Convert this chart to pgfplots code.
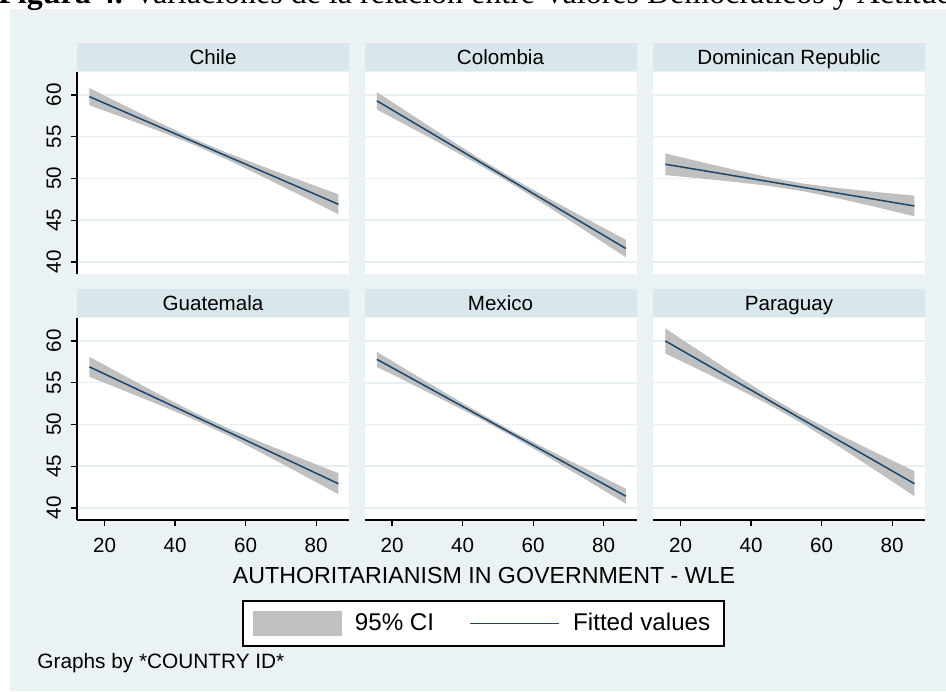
\documentclass[border=0pt]{standalone}
\usepackage{pgfplots}
\pgfplotsset{compat=1.18}
\usepackage{fontspec}
\setmainfont{Liberation Sans}
\newfontfamily\serifttl{Liberation Serif}
\definecolor{bgc}{HTML}{EAF2F3}
\definecolor{stripc}{HTML}{D9E6EB}
\definecolor{gridc}{HTML}{E6EFF1}
\definecolor{navy}{HTML}{1A476F}
\definecolor{cigray}{HTML}{C0C0C0}
\newcommand\fs[1]{\fontsize{#1}{#1}\selectfont}

\pgfplotsset{
  panel/.style={
    scale only axis, width=136pt, height=101pt,
    xmin=12.2, xmax=89.3, ymin=38.55, ymax=62.75,
    xtick={20,40,60,80}, ytick={40,45,50,55,60},
    ymajorgrids, grid style={color=gridc, line width=0.8pt},
    axis background/.style={fill=white},
    axis x line*=bottom, axis y line*=left,
    axis line style={-, black, line width=0.6pt},
    tick align=outside, major tick length=2.8pt,
    tick style={black, line width=0.6pt},
    xticklabels={}, yticklabels={},
    tick label style={font=\fs{10.3}},
    every axis title shift=0pt,
    title style={at={(0.5,1)}, anchor=south, yshift=0.5pt, fill=stripc,
      minimum width=136pt, minimum height=14pt, inner sep=0pt,
      text height=7.4pt, text depth=0pt, font=\fs{10.3}},
  },
  noy/.style={y axis line style={draw=none}, ytick style={draw=none}},
  nox/.style={x axis line style={draw=none}, xtick style={draw=none}},
  ylab/.style={yticklabels={40,45,50,55,60},
    yticklabel style={rotate=90, anchor=south, inner sep=0pt},
    yticklabel shift=5pt},
  xlab/.style={xticklabels={20,40,60,80},
    xticklabel style={anchor=north, inner sep=0pt},
    xticklabel shift=6pt},
  fit/.style={navy, line width=0.75pt},
  ci/.style={fill=cigray, draw=none},
}

\begin{document}
\begin{tikzpicture}
\fill[white] (0pt,0pt) rectangle (473pt,-345.5pt);
\fill[bgc] (5pt,-4.5pt) rectangle (473pt,-345.5pt);
\begin{scope}
\clip (0pt,0pt) rectangle (473pt,-8pt);
\node[overlay, anchor=base west, inner sep=0pt, font=\serifttl\fs{16}] at (-1pt,-1.75pt)
  {\textbf{Figura 4.} Variaciones de la relación entre Valores Democráticos y Actitudes hacia el Gobierno};
\end{scope}

% Chile
\begin{axis}[panel, nox, ylab, title={Chile}, at={(38.5pt,-137pt)}, anchor=south west]
\addplot[ci] coordinates {(15.7,60.83) (25,58.87) (35,56.80) (45,54.80) (55,53.03) (65,51.41) (75,49.85) (86.3,48.10)
  (86.3,45.70) (75,48.09) (65,50.17) (55,52.21) (45,54.08) (35,55.75) (25,57.33) (15.7,58.77)} -- cycle;
\addplot[fit] coordinates {(15.7,59.80) (86.3,46.90)};
\end{axis}

% Colombia
\begin{axis}[panel, nox, noy, title={Colombia}, at={(182.25pt,-137pt)}, anchor=south west]
\addplot[ci] coordinates {(15.7,60.35) (25,57.78) (35,55.03) (45,52.34) (55,49.82) (65,47.47) (75,45.19) (86.3,42.65)
  (86.3,40.55) (75,43.67) (65,46.41) (55,49.08) (45,51.56) (35,53.89) (25,56.16) (15.7,58.25)} -- cycle;
\addplot[fit] coordinates {(15.7,59.30) (86.3,41.60)};
\end{axis}

% Dominican Republic
\begin{axis}[panel, nox, noy, title={Dominican Republic}, at={(326.5pt,-137pt)}, anchor=south west]
\addplot[ci] coordinates {(15.7,53.00) (25,52.05) (35,51.06) (45,50.13) (55,49.37) (65,48.84) (75,48.39) (86.3,47.94)
  (86.3,45.46) (75,46.61) (65,47.58) (55,48.45) (45,49.11) (35,49.60) (25,50.03) (15.7,50.40)} -- cycle;
\addplot[fit] coordinates {(15.7,51.70) (86.3,46.70)};
\end{axis}

% Guatemala
\begin{axis}[panel, ylab, xlab, title={Guatemala}, at={(38.5pt,-260pt)}, anchor=south west]
\addplot[ci] coordinates {(15.7,58.10) (25,55.98) (35,53.71) (45,51.52) (55,49.54) (65,47.76) (75,46.06) (86.3,44.16)
  (86.3,41.64) (75,44.22) (65,46.48) (55,48.68) (45,50.66) (35,52.43) (25,54.14) (15.7,55.70)} -- cycle;
\addplot[fit] coordinates {(15.7,56.90) (86.3,42.90)};
\end{axis}

% Mexico
\begin{axis}[panel, noy, xlab, title={Mexico}, at={(182.25pt,-260pt)}, anchor=south west,
  legend columns=2,
  legend style={at={(0.4375,-0.5124)}, anchor=center, draw=black, line width=0.9pt, fill=white,
    font=\fs{12.1}, inner xsep=5pt, inner ysep=4.3pt,
    /tikz/every odd column/.append style={column sep=4.6pt},
    /tikz/every even column/.append style={column sep=15.6pt}},
  legend cell align=left]
\addplot[ci, legend image code/.code={\fill[cigray] (0pt,-6.25pt) rectangle (44.5pt,6.25pt);}]
  coordinates {(15.7,58.70) (25,56.33) (35,53.81) (45,51.33) (55,48.99) (65,46.80) (75,44.68) (86.3,42.30)
  (86.3,40.50) (75,43.38) (65,45.90) (55,48.36) (45,50.67) (35,52.83) (25,54.95) (15.7,56.90)} -- cycle;
\addlegendentry{95\% CI}
\addplot[fit, legend image code/.code={\draw[navy, line width=0.75pt] (0pt,0pt) -- (44.5pt,0pt);}]
  coordinates {(15.7,57.80) (86.3,41.40)};
\addlegendentry{Fitted values}
\end{axis}

% Paraguay
\begin{axis}[panel, noy, xlab, title={Paraguay}, at={(326.5pt,-260pt)}, anchor=south west]
\addplot[ci] coordinates {(15.7,61.50) (25,58.90) (35,56.11) (45,53.41) (55,50.96) (65,48.78) (75,46.71) (86.3,44.40)
  (86.3,41.40) (75,44.57) (65,47.34) (55,50.00) (45,52.39) (35,54.53) (25,56.61) (15.7,58.50)} -- cycle;
\addplot[fit] coordinates {(15.7,60.00) (86.3,42.90)};
\end{axis}

\node[anchor=base, inner sep=0pt, font=\fs{11.6}] at (242pt,-291.5pt) {AUTHORITARIANISM IN GOVERNMENT - WLE};
\node[anchor=west, inner sep=0pt, font=\fs{10.4}] at (18.5pt,-331.5pt) {Graphs by *COUNTRY ID*};

\pgfresetboundingbox
\useasboundingbox (0pt,0pt) rectangle (473pt,-345.5pt);
\end{tikzpicture}
\end{document}
